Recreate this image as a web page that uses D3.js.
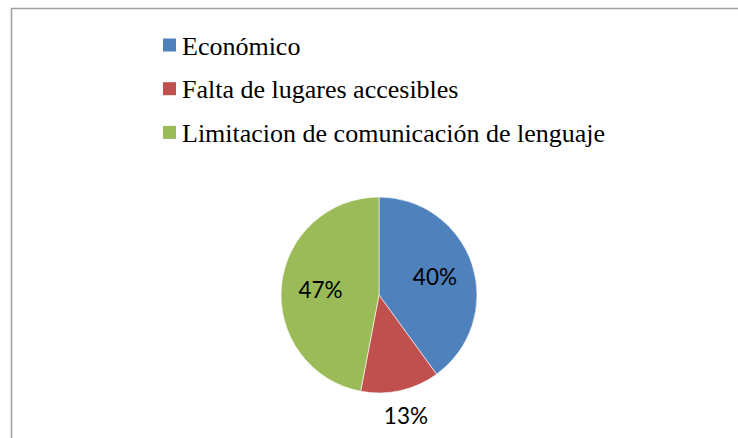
<!DOCTYPE html>
<html>
<head>
<meta charset="utf-8">
<script src="https://cdn.jsdelivr.net/npm/d3@7"></script>
<style>
  html, body { margin: 0; padding: 0; background: #fff; }
  svg { display: block; }
</style>
</head>
<body>
<svg id="chart" width="738" height="438"></svg>
<script>
const categories = ["Económico", "Falta de lugares accesibles", "Limitacion de comunicación de lenguaje"];
const values = [40, 13, 47];
const colors = ["#4F81BD", "#C0504D", "#9BBB59"];

const svg = d3.select("#chart");

// frame (top and left edges visible)
svg.append("path")
  .attr("d", "M11.5,438 L11.5,8.5 L738,8.5")
  .attr("fill", "none")
  .attr("stroke", "#a0a0a0")
  .attr("stroke-width", 1.5);

// legend
const legend = svg.append("g").attr("transform", "translate(163,38.5)");
const rowH = 43.7;
const items = legend.selectAll("g").data(categories).join("g")
  .attr("transform", (d, i) => `translate(0,${i * rowH})`);
items.append("rect")
  .attr("width", 13).attr("height", 13)
  .attr("fill", (d, i) => colors[i]);
items.append("text")
  .attr("x", 19).attr("y", 16)
  .attr("font-family", "'Liberation Serif', 'Times New Roman', serif")
  .attr("font-size", 26)
  .attr("fill", "#000")
  .text(d => d);

// pie
const cx = 379, cy = 295, R = 98;
const pie = d3.pie().sort(null).value(d => d)(values);
const arc = d3.arc().innerRadius(0).outerRadius(R);
const g = svg.append("g").attr("transform", `translate(${cx},${cy})`);
g.selectAll("path").data(pie).join("path")
  .attr("d", arc)
  .attr("fill", (d, i) => colors[i])
  .attr("stroke", "#ffffff")
  .attr("stroke-width", 0.6);

const total = d3.sum(values);
const inner = d3.arc().innerRadius(R * 0.6).outerRadius(R * 0.6);
const outer = d3.arc().innerRadius(R * 1.26).outerRadius(R * 1.26);
g.selectAll("text").data(pie).join("text")
  .attr("transform", d => {
    const small = d.value / total < 0.2;
    const [x, y] = (small ? outer : inner).centroid(d);
    return `translate(${x},${y})`;
  })
  .attr("text-anchor", "middle")
  .attr("dominant-baseline", "central")
  .attr("font-family", "Lato, 'Open Sans', sans-serif")
  .attr("font-size", 22.5)
  .attr("fill", "#000")
  .text(d => Math.round(d.value / total * 100) + "%");
</script>
</body>
</html>
